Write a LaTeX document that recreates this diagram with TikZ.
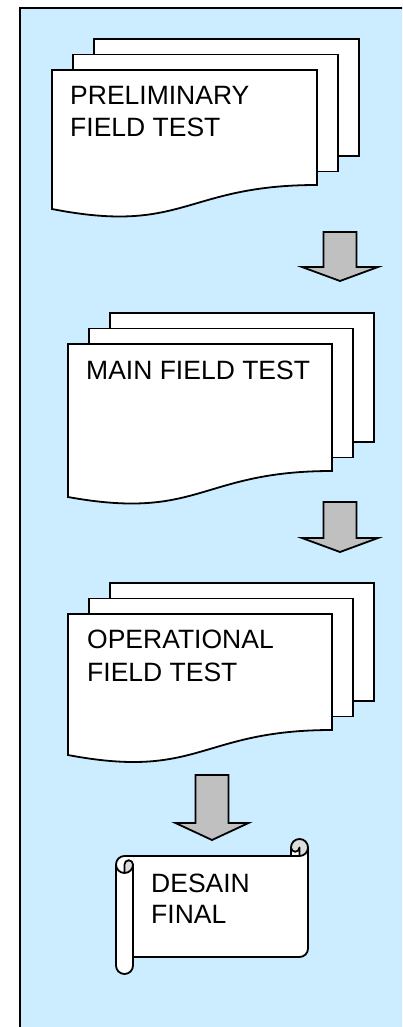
\documentclass[tikz,border=0pt]{standalone}
\usepackage{fontspec}
\setmainfont{Liberation Sans}
\definecolor{panelblue}{HTML}{CCECFF}
\definecolor{arrowgray}{HTML}{C0C0C0}
\definecolor{curlgray}{HTML}{DDDDDD}
% #1 x0, #2 top, #3 x1, #4 right-bottom y, #5 left-bottom y, #6 name
\newcommand\docstack[6]{%
  \draw[sheet] (#1+42,-#2+31) rectangle (#3+42,-#4+29);
  \draw[sheet] (#1+21,-#2+15.5) rectangle (#3+21,-#4+13.5);
  \draw[sheet] (#1,-#2) coordinate (#6) -- (#3,-#2) -- (#3,-#4)
     .. controls ({(#1+#3)/2},-#4) and ({(#1+#3)/2},-#4-50) .. (#1,-#5) -- cycle;
}
% #1 center x, #2 top, #3 head y, #4 tip y, #5 shaft half width, #6 head half width
\newcommand\downblock[6]{%
  \draw[blockarrow] (#1-#5,-#2) -- (#1+#5,-#2) -- (#1+#5,-#3) -- (#1+#6,-#3)
     -- (#1,-#4) -- (#1-#6,-#3) -- (#1-#5,-#3) -- cycle;
}
\begin{document}
\begin{tikzpicture}[x=1pt,y=1pt,
  sheet/.style={draw=black, fill=white, line width=1.8pt, line join=miter},
  blockarrow/.style={draw=black, fill=arrowgray, line width=1.8pt, line join=miter},
  txt/.style={anchor=base west, inner sep=0pt, font=\fontsize{26.5}{32}\selectfont},
  scrollline/.style={draw=black, line width=1.8pt, line join=round}
]
\useasboundingbox (0,0) rectangle (402,-1027);
\clip (0,0) rectangle (402,-1027);
\draw[fill=panelblue, line width=2.2pt] (19.8,-7.8) rectangle (440,-1080);

% document stacks
\docstack{52}{70}{317}{185}{209}{d1}
\docstack{68}{344}{332}{471}{497}{d2}
\docstack{68}{614}{332}{730}{755}{d3}

\node[txt] (t1a) at (70,-105) {PRELIMINARY};
\node[txt] (t1b) at (70,-137) {FIELD TEST};
\node[txt] (t2) at (86,-379) {MAIN FIELD TEST};
\node[txt] (t3a) at (87,-648) {OPERATIONAL};
\node[txt] (t3b) at (87,-681.5) {FIELD TEST};

% block arrows
\downblock{340}{232}{267}{281}{16.5}{38}
\downblock{340}{502}{538}{552}{16.5}{38}
\downblock{212}{775}{823}{840}{16.5}{36.5}

% horizontal scroll: l=116 t=839 r=308 b=974, ch=17
\fill[white] (308,-847.5) arc[start angle=0, delta angle=-90, radius=8.5]
  -- (299.5,-847.5) arc[start angle=0, delta angle=-180, radius=4.25]
  -- (291,-856) -- (124.5,-856) arc[start angle=90, delta angle=90, radius=8.5]
  -- (116,-965.5) arc[start angle=180, delta angle=180, radius=8.5]
  -- (133,-957) -- (299.5,-957) arc[start angle=-90, delta angle=90, radius=8.5]
  -- cycle;
\fill[curlgray] (124.5,-873) arc[start angle=-90, delta angle=90, radius=8.5]
  arc[start angle=0, delta angle=180, radius=4.25] -- cycle;
\fill[curlgray] (299.5,-856) arc[start angle=-90, delta angle=270, radius=8.5]
  arc[start angle=180, delta angle=180, radius=4.25] -- cycle;
\draw[scrollline] (116,-864.5) arc[start angle=180, delta angle=-90, radius=8.5]
  -- (291,-856) -- (291,-847.5) arc[start angle=180, delta angle=-180, radius=8.5]
  -- (308,-948.5) arc[start angle=0, delta angle=-90, radius=8.5]
  -- (133,-957) -- (133,-965.5) arc[start angle=0, delta angle=-180, radius=8.5]
  -- cycle;
\draw[scrollline] (291,-856) -- (299.5,-856) arc[start angle=-90, delta angle=90, radius=8.5];
\draw[scrollline] (299.5,-856) -- (299.5,-847.5) arc[start angle=0, delta angle=-180, radius=4.25];
\draw[scrollline] (124.5,-873) -- (124.5,-864.5) arc[start angle=180, delta angle=-180, radius=4.25]
  arc[start angle=0, delta angle=-180, radius=8.5];
\draw[scrollline] (133,-864.5) -- (133,-957);

\node[txt] (t4a) at (151,-892) {DESAIN};
\node[txt] (t4b) at (151,-923) {FINAL};
\end{tikzpicture}
\end{document}
